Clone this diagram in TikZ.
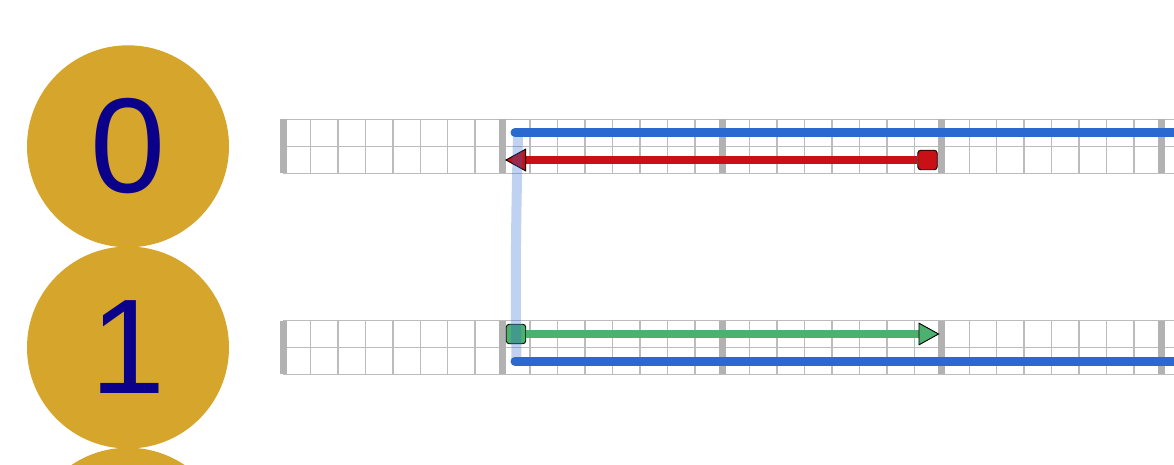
\documentclass[tikz,border=0pt]{standalone}
\usepackage{fontspec}
\setmainfont{Liberation Sans}
\usetikzlibrary{arrows.meta}
\definecolor{qgold}{RGB}{213,166,43}
\definecolor{qnavy}{RGB}{10,0,137}
\definecolor{wireb}{RGB}{42,106,208}
\definecolor{gatered}{RGB}{200,16,22}
\definecolor{gategrn}{RGB}{76,176,110}
\definecolor{gridl}{RGB}{188,188,188}
\definecolor{gridb}{RGB}{178,178,178}
\newcommand{\CW}{27.45}
\newcommand{\RH}{26.9}
\newcommand{\GX}{283}
% one register at top edge #1: two rows of cells, a heavier bar every eight cells
\newcommand{\reg}[1]{%
  \foreach \i in {0,...,40} {
    \draw[cell] ({\GX+\i*\CW},#1) -- ({\GX+\i*\CW},{#1+2*\RH});
  }
  \foreach \r in {0,1,2} {
    \draw[cell] (\GX,{#1+\r*\RH}) -- ({\GX+40*\CW},{#1+\r*\RH});
  }
  \foreach \i in {0,8,...,40} {
    \draw[bar] ({\GX+\i*\CW},#1) -- ({\GX+\i*\CW},{#1+2*\RH});
  }}

\begin{document}
\begin{tikzpicture}[x=1pt, y=-1pt,
    qubit/.style={circle, fill=qgold, minimum size=202pt, inner sep=0pt,
                  text=qnavy, font=\fontsize{135}{135}\selectfont},
    cell/.style={draw=gridl, line width=1.5pt},
    bar/.style={draw=gridb, line width=7pt},
    wire/.style={draw=wireb, line width=9pt, line cap=round},
    ctl/.style={rectangle, rounded corners=3pt, draw=black, line width=0.9pt,
                minimum size=19.5pt, inner sep=0pt},
    gate/.style={draw=#1, line width=8pt,
                 -{Triangle[length=21pt, width=23pt, line width=0.9pt, color=black, fill=#1]}},
    link/.style={draw=wireb, opacity=0.3, line width=10pt, line cap=round},
  ]
  \clip (0,0) rectangle (1174,465);

  %% ================= qubit labels =================
  \node[qubit] (q0) at (128,146.3) {0};
  \node[qubit] (q1) at (128,347.5) {1};
  \node[qubit] (q2) at (128,548.7) {};

  %% ================= registers =================
  \reg{119.5}
  \reg{320.5}

  %% ================= wires =================
  \coordinate (w0s) at (515,132.6);
  \coordinate (w0e) at (1200,132.6);
  \coordinate (w1s) at (515,361.3);
  \coordinate (w1e) at (1200,361.3);
  \draw[wire] (w0s) -- (w0e);
  \draw[wire] (w1s) -- (w1e);

  %% ================= moves =================
  \node[ctl, fill=gatered] (c0) at (927.5,160) {};
  \coordinate (t0) at (505,160);
  \draw[gate=gatered] (c0.west) -- (t0);

  \node[ctl, fill=gategrn] (c1) at (516,334) {};
  \coordinate (t1) at (939.5,334);
  \draw[gate=gategrn] (c1.east) -- (t1);

  % the link between the two wire ends sits on top, faint
  \coordinate (lk0) at (518,134);
  \coordinate (lk1) at (516.5,360);
  \draw[link] (lk0) .. controls (516,220) and (515,280) .. (lk1);
\end{tikzpicture}
\end{document}
